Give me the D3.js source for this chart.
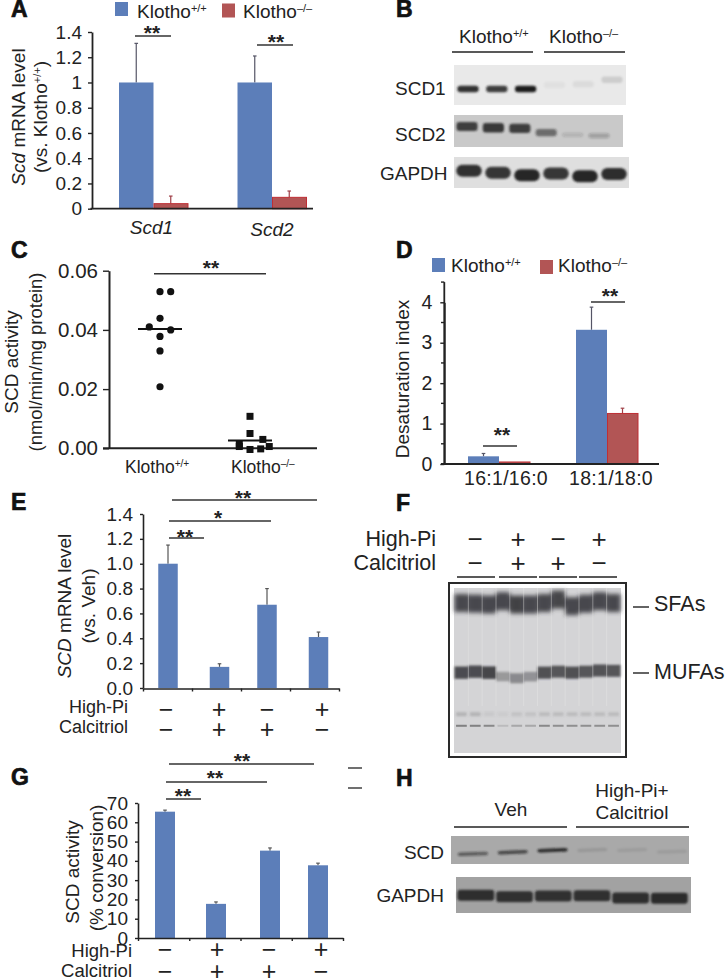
<!DOCTYPE html>
<html>
<head>
<meta charset="utf-8">
<script src="https://cdn.jsdelivr.net/npm/d3@7"></script>
<style>
html,body{margin:0;padding:0;background:#fff}
svg{display:block}
text{font-family:"Liberation Sans",Arial,sans-serif;fill:#222}
</style>
</head>
<body>
<script>
// ---------- data ----------
const aCategories = ['Scd1', 'Scd2'];
const aWT = [1, 1];
const aKO = [0.04, 0.09];
const aWTErr = [0.31, 0.21];
const aKOErr = [0.06, 0.05];
const aTicks = [0, 0.2, 0.4, 0.6, 0.8, 1, 1.2, 1.4];
const aTickLabels = ['0', '0.2', '0.4', '0.6', '0.8', '1', '1.2', '1.4'];

const cCategories = ['Klotho+/+', 'Klotho-/-'];
const cWT = [0.0529, 0.0529, 0.0439, 0.0410, 0.0400, 0.0378, 0.0329, 0.0208];
const cWTColumn = [0, 1, 0, -1, 1, 0, 0, 0];
const cKO = [0.0108, 0.0050, 0.0030, 0.0014, 0.0006, 0.0006, -0.0002, -0.0004];
const cKOColumn = [0, 0, 1.2, -1, -1, 1.8, 1, 0];
const cMedians = [0.0403, 0.0026];
const cTicks = [0, 0.02, 0.04, 0.06];

const dCategories = ['16:1/16:0', '18:1/18:0'];
const dWT = [0.19, 3.32];
const dKO = [0.05, 1.25];
const dWTErr = [0.07, 0.56];
const dKOErr = [0, 0.13];
const dTicks = [0, 1, 2, 3, 4];
const dMinorTicks = [0.5, 1.5, 2.5, 3.5, 4.5];

const treatments = ['Veh', 'High-Pi+Calcitriol', 'Calcitriol', 'High-Pi'];
const highPiSigns = ['\u2212', '+', '\u2212', '+'];
const calcitriolSigns = ['\u2212', '+', '+', '\u2212'];

const eValues = [1.0, 0.17, 0.67, 0.41];
const eErr = [0.15, 0.025, 0.13, 0.04];
const eTicks = [0, 0.2, 0.4, 0.6, 0.8, 1.0, 1.2, 1.4];

const gValues = [65.5, 17.7, 45.3, 37.7];
const gErr = [0.8, 1.0, 1.4, 1.1];
const gTicks = [0, 10, 20, 30, 40, 50, 60, 70];

// blots: band intensity (0-1) and band migration (% of blot height) per lane
const bScd1Intensity = [0.9, 0.82, 1, 0.04, 0.06, 0.12];
const bScd1Migration = [60, 60, 60, 50, 48, 37];
const bScd2Intensity = [0.82, 0.88, 0.82, 0.55, 0.14, 0.24];
const bScd2Migration = [36, 40, 42, 55, 62, 65];
const bGapdhIntensity = [0.95, 0.92, 1, 0.92, 1, 0.97];
const bGapdhMigration = [44, 51, 59, 53, 62, 55];

const fSfaIntensity = [0.9, 0.9, 0.9, 0.9, 0.95, 0.9, 0.9, 0.92, 0.9, 0.9, 0.9, 0.9];
const fSfaMigration = [9.1, 9.5, 10, 8, 10, 10, 9.1, 7, 11, 9.5, 8, 9.1];
const fMufaIntensity = [0.88, 0.88, 0.92, 0.38, 0.48, 0.42, 0.85, 0.82, 0.85, 0.82, 0.84, 0.82];
const fMufaMigration = [51.3, 50.7, 51.3, 53.7, 54.7, 53.7, 51.3, 50.7, 51.3, 50.7, 50, 50.2];
const fMinorIntensity = [0.25, 0.25, 0.1, 0.08, 0.15, 0.15, 0.2, 0.2, 0.2, 0.2, 0.2, 0.2];
const fTraceIntensity = [0.65, 0.65, 0.6, 0.2, 0.35, 0.35, 0.6, 0.55, 0.55, 0.55, 0.55, 0.55];

const hScdIntensity = [0.55, 0.7, 0.9, 0.1, 0.08, 0.08];
const hScdMigration = [64, 58, 51, 50, 50, 56];
const hGapdhIntensity = [0.95, 0.9, 0.9, 0.9, 0.95, 0.97];
const hGapdhMigration = [51, 55, 53, 52, 58, 59];

const BLUE = '#5c7eb9', RED = '#b25555', REDLINE = '#bf2f35', INK = '#222';

// ---------- helpers ----------
const svg = d3.select('body').append('svg').attr('width', 727).attr('height', 980);
const defs = svg.append('defs');
[0.5, 0.8, 1.2, 2, 3].forEach(s => {
  defs.append('filter').attr('id', 'blur' + String(s).replace('.', '_'))
    .attr('x', '-30%').attr('y', '-100%').attr('width', '160%').attr('height', '300%')
    .append('feGaussianBlur').attr('stdDeviation', s);
});
const blurId = s => `url(#blur${String(s).replace('.', '_')})`;

function label(x, y, str, size = 19, anchor = 'start', extra = {}) {
  const t = svg.append('text').attr('x', x).attr('y', y)
    .attr('font-size', size).attr('text-anchor', anchor).text(str);
  Object.entries(extra).forEach(([k, v]) => t.attr(k, v));
  return t;
}
function panelLetter(x, y, s) {
  label(x, y, s, 23, 'start', { 'font-weight': 'bold', stroke: '#111', 'stroke-width': 0.7 }).style('fill', '#111');
}
function klotho(x, y, sup, size = 19) {
  const t = svg.append('text').attr('x', x).attr('y', y).attr('font-size', size);
  t.append('tspan').text('Klotho');
  t.append('tspan').attr('font-size', size * 0.58).attr('dy', -size * 0.33).text(sup);
  return t;
}
function rotated(x, y, parts, size = 19) {
  const t = svg.append('text').attr('transform', `translate(${x},${y}) rotate(-90)`)
    .attr('font-size', size).attr('text-anchor', 'middle');
  parts.forEach(p => {
    const s = t.append('tspan').text(p.t);
    if (p.i) s.attr('font-style', 'italic');
    if (p.sup) s.attr('font-size', size * 0.58).attr('dy', -size * 0.33);
  });
  return t;
}
function sig(x1, x2, y, starX, starY, str = '**') {
  svg.append('line').attr('x1', x1).attr('x2', x2).attr('y1', y).attr('y2', y)
    .attr('stroke', '#333').attr('stroke-width', 1.4);
  label(starX, starY + 11.5, str, 21, 'middle', { 'font-weight': 'bold' });
}
function yAxis(scale, x, values, fmt, opts = {}) {
  const ax = d3.axisLeft(scale).tickValues(values).tickFormat(fmt)
    .tickSize(opts.tick || 4).tickPadding(opts.pad || 5).tickSizeOuter(0);
  const g = svg.append('g').attr('transform', `translate(${x},0)`).call(ax);
  g.selectAll('.domain').attr('stroke', INK).attr('stroke-width', opts.width || 1.6);
  g.selectAll('.tick line').attr('stroke', INK).attr('stroke-width', 1.4);
  g.selectAll('text').attr('font-size', opts.size || 19).style('font-family', '"Liberation Sans",Arial,sans-serif').style('fill', '#222');
  return g;
}
function baseline(x1, x2, y, w = 1.8) {
  svg.append('line').attr('x1', x1).attr('x2', x2).attr('y1', y).attr('y2', y)
    .attr('stroke', INK).attr('stroke-width', w);
}
function errorBar(cx, yBase, yTop, color = '#555') {
  svg.append('line').attr('x1', cx).attr('x2', cx).attr('y1', yBase).attr('y2', yTop)
    .attr('stroke', color).attr('stroke-width', 1.2);
  svg.append('line').attr('x1', cx - 1.8).attr('x2', cx + 1.8).attr('y1', yTop).attr('y2', yTop)
    .attr('stroke', color).attr('stroke-width', 1.2);
}
function groupedBars(cats, wt, ko, wtE, koE, x0, barW, y) {
  const x1 = d3.scaleBand().domain(['WT', 'KO']).range([-barW, barW]);
  cats.forEach((c, i) => {
    const xc = x0(c) + x0.bandwidth() / 2;
    errorBar(xc + x1('WT') + barW / 2, y(wt[i]), y(wt[i] + wtE[i]), '#556');
    if (koE[i] > 0) errorBar(xc + x1('KO') + barW / 2, y(ko[i]), y(ko[i] + koE[i]), '#a04048');
    svg.append('rect').attr('x', xc + x1('WT')).attr('width', x1.bandwidth())
      .attr('y', y(wt[i])).attr('height', y(0) - y(wt[i])).attr('fill', BLUE);
    svg.append('rect').attr('x', xc + x1('KO') + 0.5).attr('width', x1.bandwidth() - 0.5)
      .attr('y', y(ko[i])).attr('height', y(0) - y(ko[i])).attr('fill', RED)
      .attr('stroke', REDLINE).attr('stroke-width', 1);
  });
}
function singleBars(cats, vals, errs, xc, barW, y) {
  cats.forEach((c, i) => {
    errorBar(xc(c), y(vals[i]), y(vals[i] + errs[i]), '#555');
    svg.append('rect').attr('x', xc(c) - barW / 2).attr('width', barW)
      .attr('y', y(vals[i])).attr('height', y(0) - y(vals[i])).attr('fill', BLUE);
  });
}
function signRows(cats, xc, rows) {
  rows.forEach(r => {
    r.signs.forEach((s, i) => {
      label(xc(cats[i]), r.cy + 8.6, s, r.size || 25, 'middle');
    });
  });
}
function blot(o) {
  svg.append('rect').attr('x', o.x).attr('y', o.y).attr('width', o.w).attr('height', o.h).attr('fill', o.bg);
  const lanes = d3.scaleBand().domain(d3.range(o.intensity.length)).range([o.laneStart, o.laneStart + o.laneStep * o.intensity.length]);
  const mig = d3.scaleLinear().domain([0, 100]).range([o.y, o.y + o.h]);
  const thick = d3.scaleLinear().domain([0, 1]).range([o.thinFrac === undefined ? 1 : o.thinFrac, 1]);
  svg.append('g').attr('filter', blurId(o.blur || 1)).selectAll('rect').data(o.intensity).join('rect')
    .attr('x', (d, i) => lanes(i) + lanes.bandwidth() * (1 - o.fill) / 2)
    .attr('width', lanes.bandwidth() * o.fill)
    .attr('y', (d, i) => mig(o.migration[i]) - o.bandH * thick(d) / 2)
    .attr('height', d => o.bandH * thick(d))
    .attr('rx', o.rx === undefined ? 3 : o.rx)
    .attr('fill', o.ink || '#1c1c1c')
    .attr('fill-opacity', d => d)
    .attr('transform', (d, i) => o.tilt ? `rotate(${o.tilt} ${lanes(i) + lanes.bandwidth() / 2} ${mig(o.migration[i])})` : null);
}

// ---------- panel A ----------
panelLetter(11, 17, 'A');
const aY = d3.scaleLinear().domain([0, 1.4]).range([208.7, 32]);
const aX = d3.scaleBand().domain(aCategories).range([94.25, 331.25]);
svg.append('rect').attr('x', 115).attr('y', 2).attr('width', 13).attr('height', 14).attr('fill', BLUE);
klotho(137, 18, '+/+');
svg.append('rect').attr('x', 222).attr('y', 3.5).attr('width', 13).attr('height', 14).attr('fill', RED);
klotho(243, 18, '\u2013/\u2013');
groupedBars(aCategories, aWT, aKO, aWTErr, aKOErr, aX, 34.5, aY);
yAxis(aY, 92, aTicks, (d, i) => aTickLabels[i], { tick: 4, pad: 6, width: 1.8 });
baseline(90.5, 313, 208.7);
sig(135, 171, 36, 152, 28);
sig(257, 293, 45, 276, 37);
rotated(25, 117, [{ t: 'Scd', i: true }, { t: ' mRNA level' }]);
rotated(47, 117, [{ t: '(vs. Klotho' }, { t: '+/+', sup: true }, { t: ')' }]).selectAll('tspan').filter((d, i) => i === 2).attr('dy', 19 * 0.33);
aCategories.forEach((c, i) => {
  label(aX(c) + aX.bandwidth() / 2 - (i ? 0 : 2), 234 + i * 2, c, 19, 'middle', { 'font-style': 'italic' });
});

// ---------- panel B ----------
panelLetter(396, 17, 'B');
klotho(459, 43, '+/+');
klotho(549, 43, '\u2013/\u2013');
[[452, 533], [544, 625]].forEach(p => baseline(p[0], p[1], 52, 1.3));
label(395, 94.5, 'SCD1');
label(395, 141, 'SCD2');
label(380, 180, 'GAPDH');
blot({ x: 454, y: 65, w: 172, h: 40, bg: '#e9e9e9', intensity: bScd1Intensity, migration: bScd1Migration, laneStart: 453.6, laneStep: 28.8, fill: 0.74, bandH: 6.5, blur: 0.8 });
blot({ x: 454, y: 115, w: 169, h: 32, bg: '#c9c9c9', intensity: bScd2Intensity, migration: bScd2Migration, laneStart: 453.8, laneStep: 26.4, fill: 0.8, bandH: 10.5, thinFrac: 0.3, blur: 0.8, ink: '#222' });
blot({ x: 454, y: 157, w: 175, h: 31, bg: '#dfdfdf', intensity: bGapdhIntensity, migration: bGapdhMigration, laneStart: 454.5, laneStep: 29, fill: 0.88, bandH: 12, blur: 0.8, rx: 6, ink: '#262626' });

// ---------- panel C ----------
panelLetter(11, 258, 'C');
const cY = d3.scaleLinear().domain([0, 0.06]).range([448.3, 270.7]);
const cX = d3.scaleBand().domain(cCategories).range([115, 295]);
const cCol = d3.scaleLinear().domain([-1, 1]).range([-10.7, 10.7]);
const cMid = c => cX(c) + cX.bandwidth() / 2;
yAxis(cY, 109, cTicks, d3.format('.2f'), { tick: 6, pad: 5, size: 20.5, width: 2 });
baseline(103, 317, 448.3, 2);
svg.append('g').selectAll('circle').data(cWT).join('circle')
  .attr('cx', (d, i) => cMid(cCategories[0]) + cCol(cWTColumn[i]))
  .attr('cy', d => cY(d)).attr('r', 3.6).attr('fill', '#111');
const sq = 7;
svg.append('g').selectAll('rect').data(cKO).join('rect')
  .attr('x', (d, i) => cMid(cCategories[1]) + cCol(cKOColumn[i]) - sq / 2)
  .attr('y', d => cY(d) - sq / 2).attr('width', sq).attr('height', sq).attr('fill', '#111');
cMedians.forEach((m, i) => {
  const c = cMid(cCategories[i]);
  svg.append('line').attr('x1', c - 22).attr('x2', c + 22).attr('y1', cY(m)).attr('y2', cY(m))
    .attr('stroke', '#111').attr('stroke-width', 2);
});
sig(154, 266, 273.7, 211, 263);
klotho(125, 473, '+/+', 17.5);
klotho(231, 473, '\u2013/\u2013', 17.5);
rotated(18, 362, [{ t: 'SCD activity' }]);
rotated(42, 362, [{ t: '(nmol/min/mg protein)' }], 18.4);

// ---------- panel D ----------
panelLetter(396, 258, 'D');
const dY = d3.scaleLinear().domain([0, 4]).range([464, 302.3]);
const dX = d3.scaleBand().domain(dCategories).range([445, 661]);
svg.append('rect').attr('x', 432).attr('y', 258).attr('width', 13).attr('height', 14).attr('fill', BLUE);
klotho(451, 272, '+/+');
svg.append('rect').attr('x', 540).attr('y', 260).attr('width', 13).attr('height', 14).attr('fill', RED);
klotho(558, 272, '\u2013/\u2013');
groupedBars(dCategories, dWT, dKO, dWTErr, dKOErr, dX, 31, dY);
yAxis(dY, 444.3, dTicks, d3.format('d'), { tick: 4, pad: 8, size: 19.5, width: 1.8 });
svg.append('g').selectAll('line').data(dMinorTicks).join('line')
  .attr('x1', 441).attr('x2', 444.3).attr('y1', d => dY(d)).attr('y2', d => dY(d))
  .attr('stroke', INK).attr('stroke-width', 1.4);
svg.append('line').attr('x1', 444.3).attr('x2', 444.3).attr('y1', dY(4.5)).attr('y2', dY(0)).attr('stroke', INK).attr('stroke-width', 1.8);
baseline(441, 659, 464);
sig(483, 517, 446, 502, 430);
sig(591, 625, 302, 610, 291);
rotated(409, 379, [{ t: 'Desaturation index' }]);
label(506, 485, dCategories[0], 19.5, 'middle', { 'letter-spacing': 0.3 });
label(611, 485, dCategories[1], 19.5, 'middle', { 'letter-spacing': 0.3 });

// ---------- panel E ----------
panelLetter(11, 510, 'E');
const eY = d3.scaleLinear().domain([0, 1.4]).range([688, 514]);
const eX = d3.scaleOrdinal().domain(treatments).range([168, 219.5, 267, 318.5]);
singleBars(treatments, eValues, eErr, eX, 19.5, eY);
yAxis(eY, 143, eTicks, d3.format('.1f'), { tick: 3, pad: 7 });
const eBottom = d3.scaleLinear().domain([0, 4]).range([143, 339]);
const eB = svg.append('g').attr('transform', 'translate(0,688.5)').call(d3.axisBottom(eBottom).ticks(4).tickFormat('').tickSize(3).tickSizeOuter(0));
eB.selectAll('.domain').attr('stroke', INK).attr('stroke-width', 1.6);
eB.selectAll('.tick line').attr('stroke', INK).attr('stroke-width', 1.4);
sig(169, 204, 538, 185, 532);
sig(169, 271, 521, 218, 513, '*');
sig(172, 317, 500, 243, 493);
rotated(71, 606, [{ t: 'SCD', i: true }, { t: ' mRNA level' }]);
rotated(95, 606, [{ t: '(vs. Veh)' }]);
label(128, 713, 'High-Pi', 18, 'end');
label(128, 733, 'Calcitriol', 18, 'end');
const eSign = d3.scaleOrdinal().domain(treatments).range([166, 219, 267, 322]);
signRows(treatments, eSign, [{ signs: highPiSigns, cy: 709 }, { signs: calcitriolSigns, cy: 729 }]);

// ---------- panel F ----------
panelLetter(396, 511, 'F');
label(436, 546, 'High-Pi', 21.5, 'end');
label(436, 570, 'Calcitriol', 21.5, 'end');
const fSign = d3.scaleOrdinal().domain(treatments).range([475, 518, 558, 599]);
signRows(treatments, fSign, [{ signs: highPiSigns, cy: 539, size: 26 }, { signs: calcitriolSigns, cy: 563, size: 26 }]);
[[457, 495], [499, 537], [539, 577], [579, 617]].forEach(p => baseline(p[0], p[1], 577, 1.3));
svg.append('rect').attr('x', 449).attr('y', 583).attr('width', 177).attr('height', 174)
  .attr('fill', '#fff').attr('stroke', '#2a2a2a').attr('stroke-width', 2);
const gelX = 454, gelY = 588, gelW = 167, gelH = 165;
svg.append('rect').attr('x', gelX).attr('y', gelY).attr('width', gelW).attr('height', gelH).attr('fill', '#d4d4d6');
const fLanes = { laneStart: 454.5, laneStep: 13.83, ink: '#39393d', rx: 0, x: gelX, y: gelY, w: gelW, h: gelH, bg: 'none' };
blot({ ...fLanes, intensity: fSfaIntensity, migration: fSfaMigration, fill: 1, bandH: 18, blur: 2 });
blot({ ...fLanes, intensity: fMufaIntensity, migration: fMufaMigration, fill: 1, bandH: 13, thinFrac: 0.55, blur: 1.2 });
blot({ ...fLanes, ink: '#555', intensity: fMinorIntensity, migration: d3.range(12).map(() => 76.5), fill: 0.78, bandH: 4, blur: 0.8 });
blot({ ...fLanes, ink: '#555', intensity: fTraceIntensity, migration: d3.range(12).map(() => 83.5), fill: 0.78, bandH: 2, blur: 0.5 });
const fLaneLines = d3.scaleLinear().domain([0, 12]).range([454.5, 620.5]);
svg.append('g').selectAll('line').data(d3.range(1, 12)).join('line')
  .attr('x1', d => fLaneLines(d)).attr('x2', d => fLaneLines(d)).attr('y1', gelY).attr('y2', gelY + 118)
  .attr('stroke', '#e6e6e8').attr('stroke-width', 0.7).attr('stroke-opacity', 0.6);
baseline(633, 649, 607, 1.4);
baseline(633, 649, 673, 1.4);
label(654, 611, 'SFAs', 21.5);
label(654, 679, 'MUFAs', 21.5);

// ---------- panel G ----------
panelLetter(11, 785, 'G');
const gY = d3.scaleLinear().domain([0, 70]).range([938, 803]);
const gX = d3.scaleOrdinal().domain(treatments).range([165, 216, 270, 318]);
singleBars(treatments, gValues, gErr, gX, 20, gY);
yAxis(gY, 138, gTicks, d3.format('d'), { tick: 3, pad: 7 });
const gBottom = d3.scaleLinear().domain([0, 4]).range([138, 343]);
const gB = svg.append('g').attr('transform', 'translate(0,938)').call(d3.axisBottom(gBottom).ticks(4).tickFormat('').tickSize(3).tickSizeOuter(0));
gB.selectAll('.domain').attr('stroke', INK).attr('stroke-width', 1.6);
gB.selectAll('.tick line').attr('stroke', INK).attr('stroke-width', 1.4);
sig(166, 201, 799, 183, 791);
sig(166, 267, 782, 215, 773);
sig(169, 314, 764, 242, 756);
rotated(79, 872, [{ t: 'SCD activity' }]);
rotated(103, 868, [{ t: '(% conversion)' }]);
label(132, 957, 'High-Pi', 18.5, 'end');
label(132, 977, 'Calcitriol', 18.5, 'end');
const gSign = d3.scaleOrdinal().domain(treatments).range([165, 217, 269, 321]);
signRows(treatments, gSign, [{ signs: highPiSigns, cy: 949 }, { signs: calcitriolSigns, cy: 971 }]);
baseline(348, 362, 768, 1.3);
baseline(348, 362, 788, 1.3);

// ---------- panel H ----------
panelLetter(396, 786, 'H');
label(511, 816, 'Veh', 19, 'middle');
label(632, 797, 'High-Pi+', 19, 'middle');
label(632, 819, 'Calcitriol', 19, 'middle');
baseline(454, 567, 827, 1.3);
baseline(576, 689, 827, 1.3);
label(444, 859, 'SCD', 19, 'end');
label(444, 902, 'GAPDH', 19, 'end');
blot({ x: 451, y: 836, w: 238, h: 28, bg: '#a9a9a9', intensity: hScdIntensity, migration: hScdMigration, laneStart: 453, laneStep: 39.8, fill: 0.76, bandH: 3.5, blur: 0.8, tilt: -2 });
blot({ x: 456, y: 877, w: 235, h: 36, bg: '#a2a2a2', intensity: hGapdhIntensity, migration: hGapdhMigration, laneStart: 456.5, laneStep: 38.7, fill: 0.95, bandH: 11, blur: 0.8, rx: 3, ink: '#262626' });
</script>
</body>
</html>
